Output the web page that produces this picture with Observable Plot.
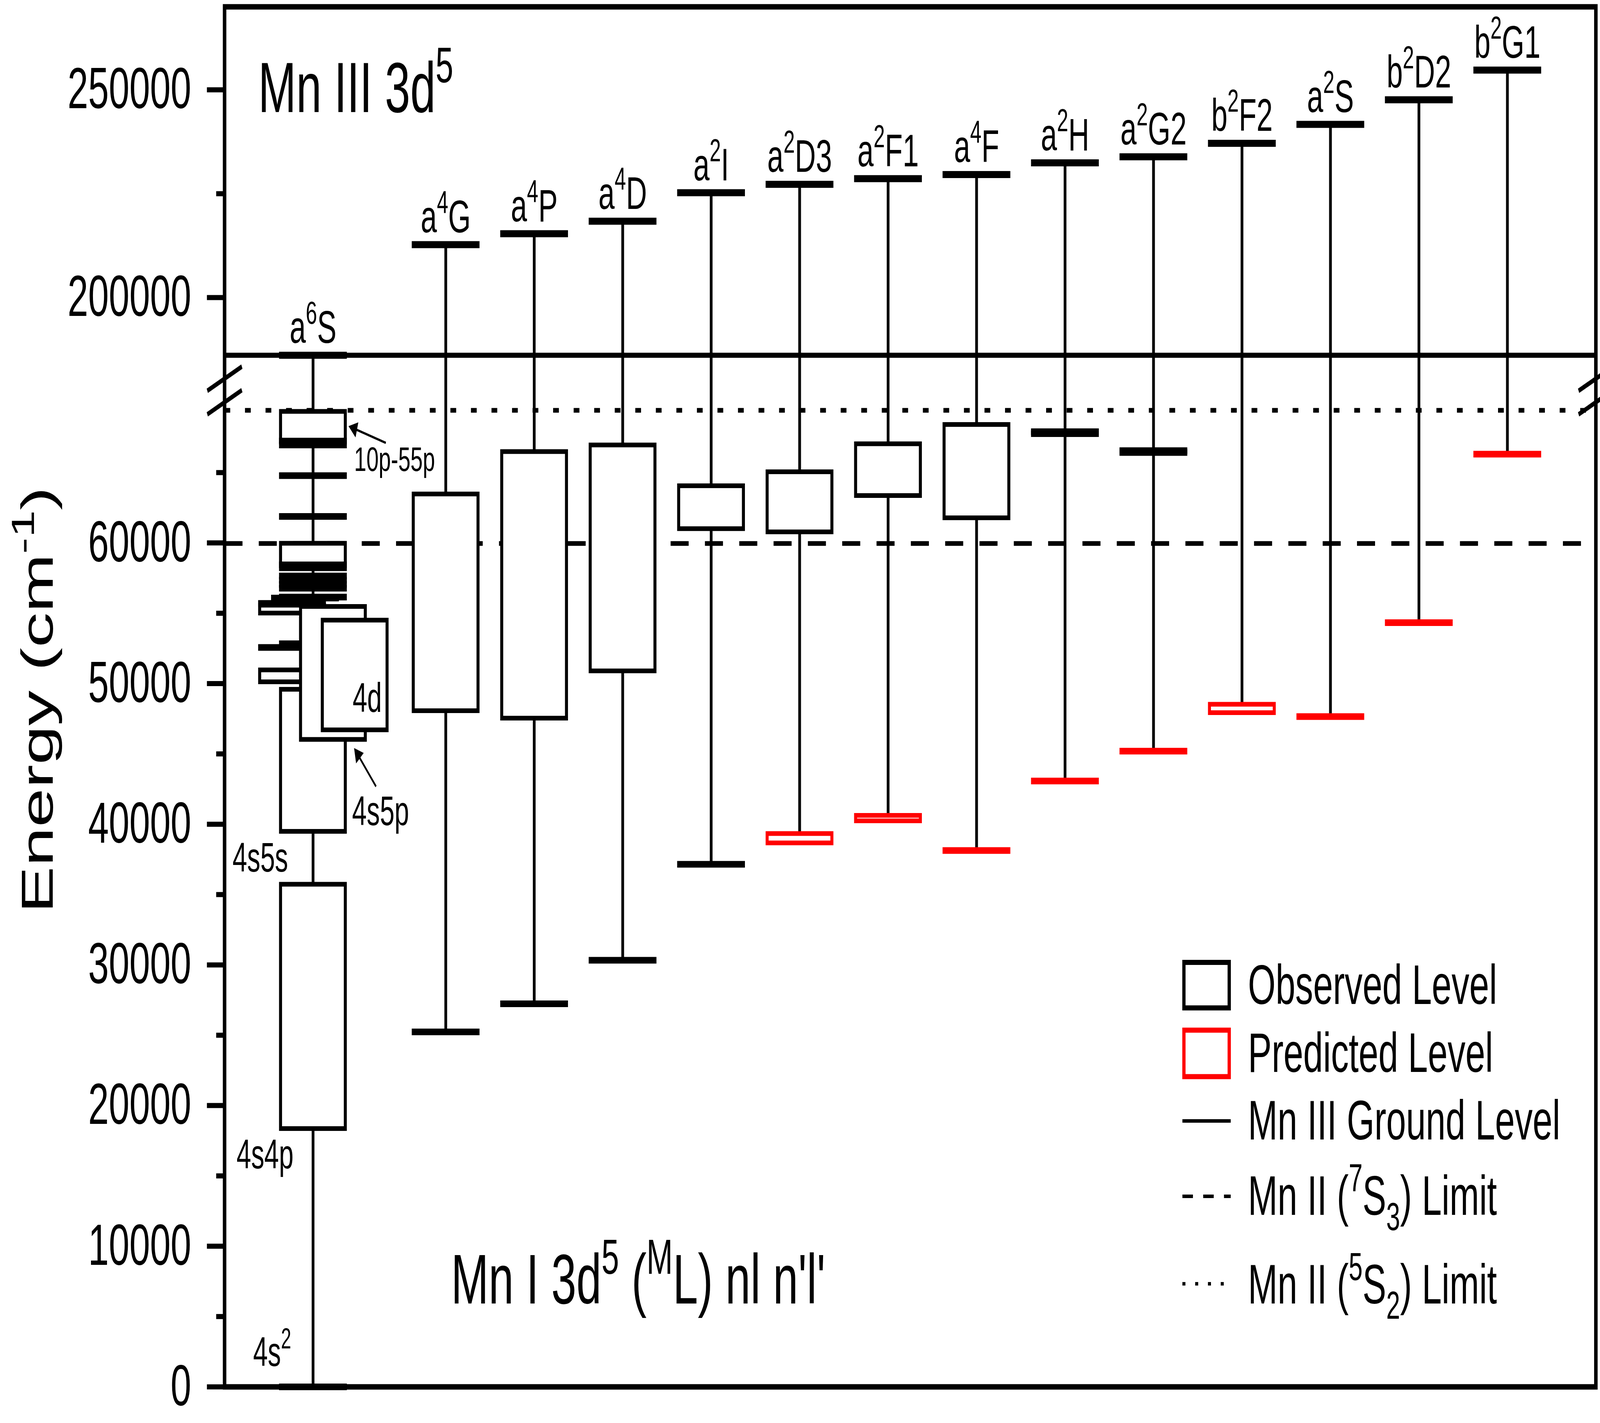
<!DOCTYPE html>
<html>
<head>
<meta charset="utf-8">
<script src="https://cdn.jsdelivr.net/npm/d3@7"></script>
<script src="https://cdn.jsdelivr.net/npm/@observablehq/plot@0.6"></script>
<style>
  html, body { margin: 0; padding: 0; background: #fff; overflow: hidden; }
  #chart { overflow: hidden; }
  #chart svg { display: block; }
</style>
</head>
<body>
<div id="chart"></div>
<script>
// ================= DATA =================
// Mn III 3d5 parent terms (upper section) and their energies (cm-1)
const terms      = ["a^6S","a^4G","a^4P","a^4D","a^2I","a^2D3","a^2F1","a^4F","a^2H","a^2G2","b^2F2","a^2S","b^2D2","b^2G1"];
const termEnergy = [186105, 212741, 215374, 218382, 225244, 227265, 228628, 229606, 232426, 233892, 237135, 241694, 247616, 254760];

// Mn I 3d5(ML) nl n'l' level groups drawn as boxes under each parent term
const boxTerm   = ["a^4G","a^4P","a^4D","a^2I","a^2D3","a^2F1","a^4F","a^2D3","a^2F1","b^2F2"];
const boxLow    = [48057, 47529, 50888, 61000, 60771, 63354, 61771, 38659, 40228, 47918];
const boxHigh   = [63465, 66480, 66950, 64050, 65044, 67034, 68406, 39325, 40616, 48515];
const boxStatus = ["observed","observed","observed","observed","observed","observed","observed","predicted","predicted","predicted"];

// single levels under each parent term
const levelTerm   = ["a^4G","a^4P","a^4D","a^2I","a^4F","a^2H","a^2H","a^2H","a^2G2","a^2G2","a^2G2","a^2S","b^2D2","b^2G1"];
const levelEnergy = [25236, 27235, 30330, 37150, 38131, 67766, 67904, 43073, 66425, 66563, 45197, 47654, 54331, 66310];
const levelStatus = ["observed","observed","observed","observed","predicted","observed","observed","predicted","observed","observed","predicted","predicted","predicted","predicted"];

// Mn I 3d5 (a6S) 4s nl column: groups (boxes) and single levels, with sub-column
const mnIBoxLow  = [18350, 39480, 58150, 67240, 55000, 50111, 46016, 46696];
const mnIBoxHigh = [35720, 49580, 59960, 69336, 55560, 50958, 55469, 54497];
const mnIBoxSub  = ["main","main","main","main","left","left","4s5p","4d"];
const mnILevel    = [0, 52832, 56150, 56780, 57050, 57350, 57650, 58440, 61880, 64780, 66963, 67240, 56080, 55700, 52567];
const mnILevelSub = ["main","main","main","main","main","main","main","main","main","main","main","main","midleft","left","left"];

// limits / reference lines
const limitName   = ["Mn III Ground Level", "Mn II (^7S_3) Limit", "Mn II (^5S_2) Limit"];
const limitEnergy = [186105, 59960, 69430];

// axis ticks
const yMajor = [0, 10000, 20000, 30000, 40000, 50000, 60000, 200000, 250000];
const yMinor = [5000, 15000, 25000, 35000, 45000, 55000, 65000, 225000];

// annotations of the a6S column
const noteText = ["4s^2", "4s4p", "4s5s", "4s5p", "4d", "10p-55p"];
const noteX    = [-1.177, -1.365, -1.41, -0.059, -0.053, -0.036];
const noteY    = [2432, 16480, 37579, 40869, 48934, 65897];
const arrowFromX = [0.3224, 0.2117], arrowFromY = [67110, 42682];
const arrowToX   = [-0.0955, -0.0338], arrowToY   = [68295, 45392];

// legend
const legendLabel = ["Observed Level", "Predicted Level", "Mn III Ground Level", "Mn II (^7S_3) Limit", "Mn II (^5S_2) Limit"];
const legendSwatchY = [[26929, 30164], [22043, 25347], 18906, 13548, 7329];
const legendTextY   = [28496, 23665, 18862, 13504, 7202];

// ================= LAYOUT (scales) =================
const W = 6387, H = 3644;
const X_DOMAIN = [-1.5, 14];
const Y_DOMAIN = [0, 70000, 180000, 270000];   // broken axis: 0–70000 | 180000–270000
const Y_RANGE  = [3551, 1029.6, 974.3, 16.8];
const ML = 896, MR = W - 6370, MT = 17, MB = H - 3551;
const xs = d3.scaleLinear(X_DOMAIN, [ML, W - MR]);
const ys = d3.scaleLinear(Y_DOMAIN, Y_RANGE);

const BLACK = "#000", RED = "#ff0000";
const colorOf = s => s === "predicted" ? RED : BLACK;
const termX = t => { const i = terms.indexOf(t); return i === 0 ? -0.5 : i; };
const subOffset = {main: 0, left: -0.236, midleft: -0.09, "4s5p": 0.226, "4d": 0.472};
const BOXW = 0.366, BARW = 0.383;

// tables built from the arrays
const termRows  = terms.map((t, i) => ({t, x: termX(t), e: termEnergy[i]}));
const boxRows   = boxTerm.map((t, i) => ({x: termX(t), lo: boxLow[i], hi: boxHigh[i], s: boxStatus[i]}));
const levelRows = levelTerm.map((t, i) => ({x: termX(t), e: levelEnergy[i], s: levelStatus[i]}));
const mnIBoxes  = mnIBoxLow.map((lo, i) => ({x: -0.5 + subOffset[mnIBoxSub[i]], lo, hi: mnIBoxHigh[i], sub: mnIBoxSub[i]}));
const mnILevels = mnILevel.map((e, i) => ({x: -0.5 + subOffset[mnILevelSub[i]], e}));
const stemRows  = termRows.map(r => {
  const lows = [
    ...boxRows.filter(b => b.x === r.x).map(b => b.lo),
    ...levelRows.filter(l => l.x === r.x).map(l => l.e),
    ...(r.x === -0.5 ? mnILevel : [])
  ];
  return {x: r.x, y1: d3.min(lows), y2: r.e};
});
const noteRows = noteText.map((t, i) => ({t, x: noteX[i], y: noteY[i], fs: t === "10p-55p" ? 88 : 105}));

// arrows: shaft + filled triangular head
const arrowRows = arrowFromX.map((_, i) => {
  const p1 = [xs(arrowFromX[i]), ys(arrowFromY[i])], p2 = [xs(arrowToX[i]), ys(arrowToY[i])];
  const dx = p2[0] - p1[0], dy = p2[1] - p1[1], L = Math.hypot(dx, dy), ux = dx / L, uy = dy / L;
  const c = [p2[0] - 22 * ux, p2[1] - 22 * uy], b = [p2[0] - 30 * ux, p2[1] - 30 * uy];
  return {x1: arrowFromX[i], y1: arrowFromY[i], x2: xs.invert(b[0]), y2: ys.invert(b[1]),
          hx: xs.invert(c[0]), hy: ys.invert(c[1]), rot: Math.atan2(ux, -uy) * 180 / Math.PI};
});

// axis break marks
const slashRows = [];
for (const fx of [ML, W - MR]) for (const cy of [ys(180000) - 5, ys(70000)]) {
  slashRows.push({x1: xs.invert(fx - 69), y1: ys.invert(cy + 31), x2: xs.invert(fx + 69), y2: ys.invert(cy - 31)});
}

// legend tables
const LX1 = 9.345, LX2 = 9.857, LLX1 = 9.328, LLX2 = 9.874, LTX = 10.067;
const legendBoxes = [
  {y1: legendSwatchY[0][0], y2: legendSwatchY[0][1], c: BLACK},
  {y1: legendSwatchY[1][0], y2: legendSwatchY[1][1], c: RED}
];
const legendLines = [
  {y: legendSwatchY[2], dash: null},
  {y: legendSwatchY[3], dash: "42,41"},
  {y: legendSwatchY[4], dash: "12,39"}
];
const legendTexts = legendLabel.map((t, i) => ({t, y: legendTextY[i]}));

// ================= PLOT =================
const plot = Plot.plot({
  width: W, height: H,
  marginLeft: ML, marginRight: MR, marginTop: MT, marginBottom: MB,
  style: {fontFamily: "'Liberation Sans', Arial, Helvetica, sans-serif", background: "#fff", color: "#000"},
  x: {type: "linear", domain: X_DOMAIN, axis: null},
  y: {type: "linear", domain: Y_DOMAIN, range: Y_RANGE},
  marks: [
    // reference lines
    Plot.ruleY([limitEnergy[0]], {stroke: BLACK, strokeWidth: 13}),
    Plot.ruleY([limitEnergy[1]], {stroke: BLACK, strokeWidth: 12, strokeDasharray: "72,65"}),
    Plot.ruleY([limitEnergy[2]], {stroke: BLACK, strokeWidth: 12, strokeDasharray: "23,59"}),
    // stems
    Plot.ruleX(stemRows, {x: "x", y1: "y1", y2: "y2", stroke: BLACK, strokeWidth: 11}),
    // term columns
    Plot.rect(boxRows, {x1: d => d.x - BOXW, x2: d => d.x + BOXW, y1: "lo", y2: "hi",
      fill: "white", stroke: d => colorOf(d.s), strokeWidth: 12}),
    Plot.ruleY(levelRows, {x1: d => d.x - BARW, x2: d => d.x + BARW, y: "e",
      stroke: d => colorOf(d.s), strokeWidth: 17}),
    // Mn I a6S column
    Plot.rect(mnIBoxes.filter(d => d.sub === "main" || d.sub === "left"),
      {x1: d => d.x - BOXW, x2: d => d.x + BOXW, y1: "lo", y2: "hi", fill: "white", stroke: BLACK, strokeWidth: 12}),
    Plot.ruleY(mnILevels, {x1: d => d.x - BARW, x2: d => d.x + BARW, y: "e", stroke: BLACK, strokeWidth: 17}),
    Plot.rect(mnIBoxes.filter(d => d.sub === "4s5p"),
      {x1: d => d.x - BOXW, x2: d => d.x + BOXW, y1: "lo", y2: "hi", fill: "white", stroke: BLACK, strokeWidth: 12}),
    Plot.rect(mnIBoxes.filter(d => d.sub === "4d"),
      {x1: d => d.x - BOXW, x2: d => d.x + BOXW, y1: "lo", y2: "hi", fill: "white", stroke: BLACK, strokeWidth: 12}),
    // Mn III terms
    Plot.ruleY(termRows, {x1: d => d.x - BARW, x2: d => d.x + BARW, y: "e", stroke: BLACK, strokeWidth: 18}),
    Plot.text(termRows, {x: "x", y: "e", text: "t", dy: -69, fontSize: 116, fill: BLACK}),
    // notes and arrows
    Plot.text(noteRows, {x: "x", y: "y", text: "t", fontSize: d => d.fs, textAnchor: "start", fill: BLACK}),
    Plot.link(arrowRows, {x1: "x1", y1: "y1", x2: "x2", y2: "y2", stroke: BLACK, strokeWidth: 6}),
    Plot.dot(arrowRows, {x: "hx", y: "hy", rotate: "rot", symbol: "triangle", r: 15, fill: BLACK, stroke: "none"}),
    // frame and axis
    Plot.frame({stroke: BLACK, strokeWidth: 14}),
    Plot.axisY({ticks: yMajor, tickSize: 70, tickPadding: 63, tickFormat: d3.format("d"),
      fontSize: 148, strokeWidth: 13, label: null, anchor: "left"}),
    Plot.axisY({ticks: yMinor, tickSize: 33, tickFormat: () => "", strokeWidth: 13, label: null, anchor: "left"}),
    Plot.link(slashRows, {x1: "x1", y1: "y1", x2: "x2", y2: "y2", stroke: BLACK, strokeWidth: 12}),
    // legend
    Plot.rect(legendBoxes, {x1: LX1, x2: LX2, y1: "y1", y2: "y2", fill: "none", stroke: d => d.c, strokeWidth: 13}),
    Plot.ruleY(legendLines.filter(d => !d.dash), {x1: LLX1, x2: LLX2, y: "y", stroke: BLACK, strokeWidth: 9}),
    Plot.ruleY(legendLines.filter(d => d.dash === "42,41"), {x1: LLX1, x2: LLX2, y: "y", stroke: BLACK, strokeWidth: 9, strokeDasharray: "42,41"}),
    Plot.ruleY(legendLines.filter(d => d.dash === "12,39"), {x1: LLX1, x2: LLX2, y: "y", stroke: BLACK, strokeWidth: 9, strokeDasharray: "12,39"}),
    Plot.text(legendTexts, {x: LTX, y: "y", text: "t", textAnchor: "start", fontSize: 142, fill: BLACK}),
    // titles
    Plot.text(["Mn III 3d^5"], {x: -1.12, y: 250080, text: d => d, textAnchor: "start", fontSize: 182, fill: BLACK}),
    Plot.text(["Mn I 3d^5 (^ML) nl n'l'"], {x: 1.06, y: 7540, text: d => d, textAnchor: "start", fontSize: 180, fill: BLACK}),
    Plot.text(["Energy (cm^{-1})"], {x: -3.605, y: 48834, text: d => d, rotate: -90, fontSize: 180, fill: BLACK})
  ]
});

document.getElementById("chart").appendChild(plot);

// superscript / subscript markup -> tspans (text stays real text)
function richText(root) {
  const NS = "http://www.w3.org/2000/svg";
  root.querySelectorAll("text").forEach(t => {
    const s = t.textContent;
    if (!/[\^_]/.test(s)) return;
    if (t.childNodes.length === 1 && t.firstChild.nodeName === "tspan") {
      for (const a of ["x", "y", "dx", "dy"]) {
        const v = t.firstChild.getAttribute(a);
        if (v != null) t.setAttribute(a, v);
      }
    }
    const fs = parseFloat(getComputedStyle(t).fontSize) || 16;
    const re = /\^\{([^}]*)\}|\^(.)|_\{([^}]*)\}|_(.)|([^\^_]+)/g;
    const parts = [];
    let m;
    while ((m = re.exec(s))) {
      if (m[1] != null || m[2] != null) parts.push(["sup", m[1] ?? m[2]]);
      else if (m[3] != null || m[4] != null) parts.push(["sub", m[3] ?? m[4]]);
      else parts.push(["n", m[5]]);
    }
    while (t.firstChild) t.removeChild(t.firstChild);
    let cur = 0;
    for (const [k, txt] of parts) {
      const ts = document.createElementNS(NS, "tspan");
      const target = k === "sup" ? -0.42 * fs : k === "sub" ? 0.28 * fs : 0;
      if (target !== cur) { ts.setAttribute("dy", (target - cur).toFixed(2)); cur = target; }
      if (k !== "n") ts.setAttribute("font-size", (0.7 * fs).toFixed(2));
      ts.textContent = txt;
      t.appendChild(ts);
    }
  });
}
richText(plot);

// The browser window may be narrower than the 6387x3644 canvas: map the full
// chart onto the whole window so the photographed picture keeps its layout.
function fitToWindow() {
  const vw = window.innerWidth || W, vh = window.innerHeight || H;
  plot.setAttribute("viewBox", `0 0 ${W} ${H}`);
  plot.setAttribute("preserveAspectRatio", "none");
  plot.setAttribute("width", vw);
  plot.setAttribute("height", vh);
  plot.style.width = vw + "px";
  plot.style.height = vh + "px";
  plot.style.maxWidth = "none";
}
fitToWindow();
window.addEventListener("resize", fitToWindow);
</script>
</body>
</html>
